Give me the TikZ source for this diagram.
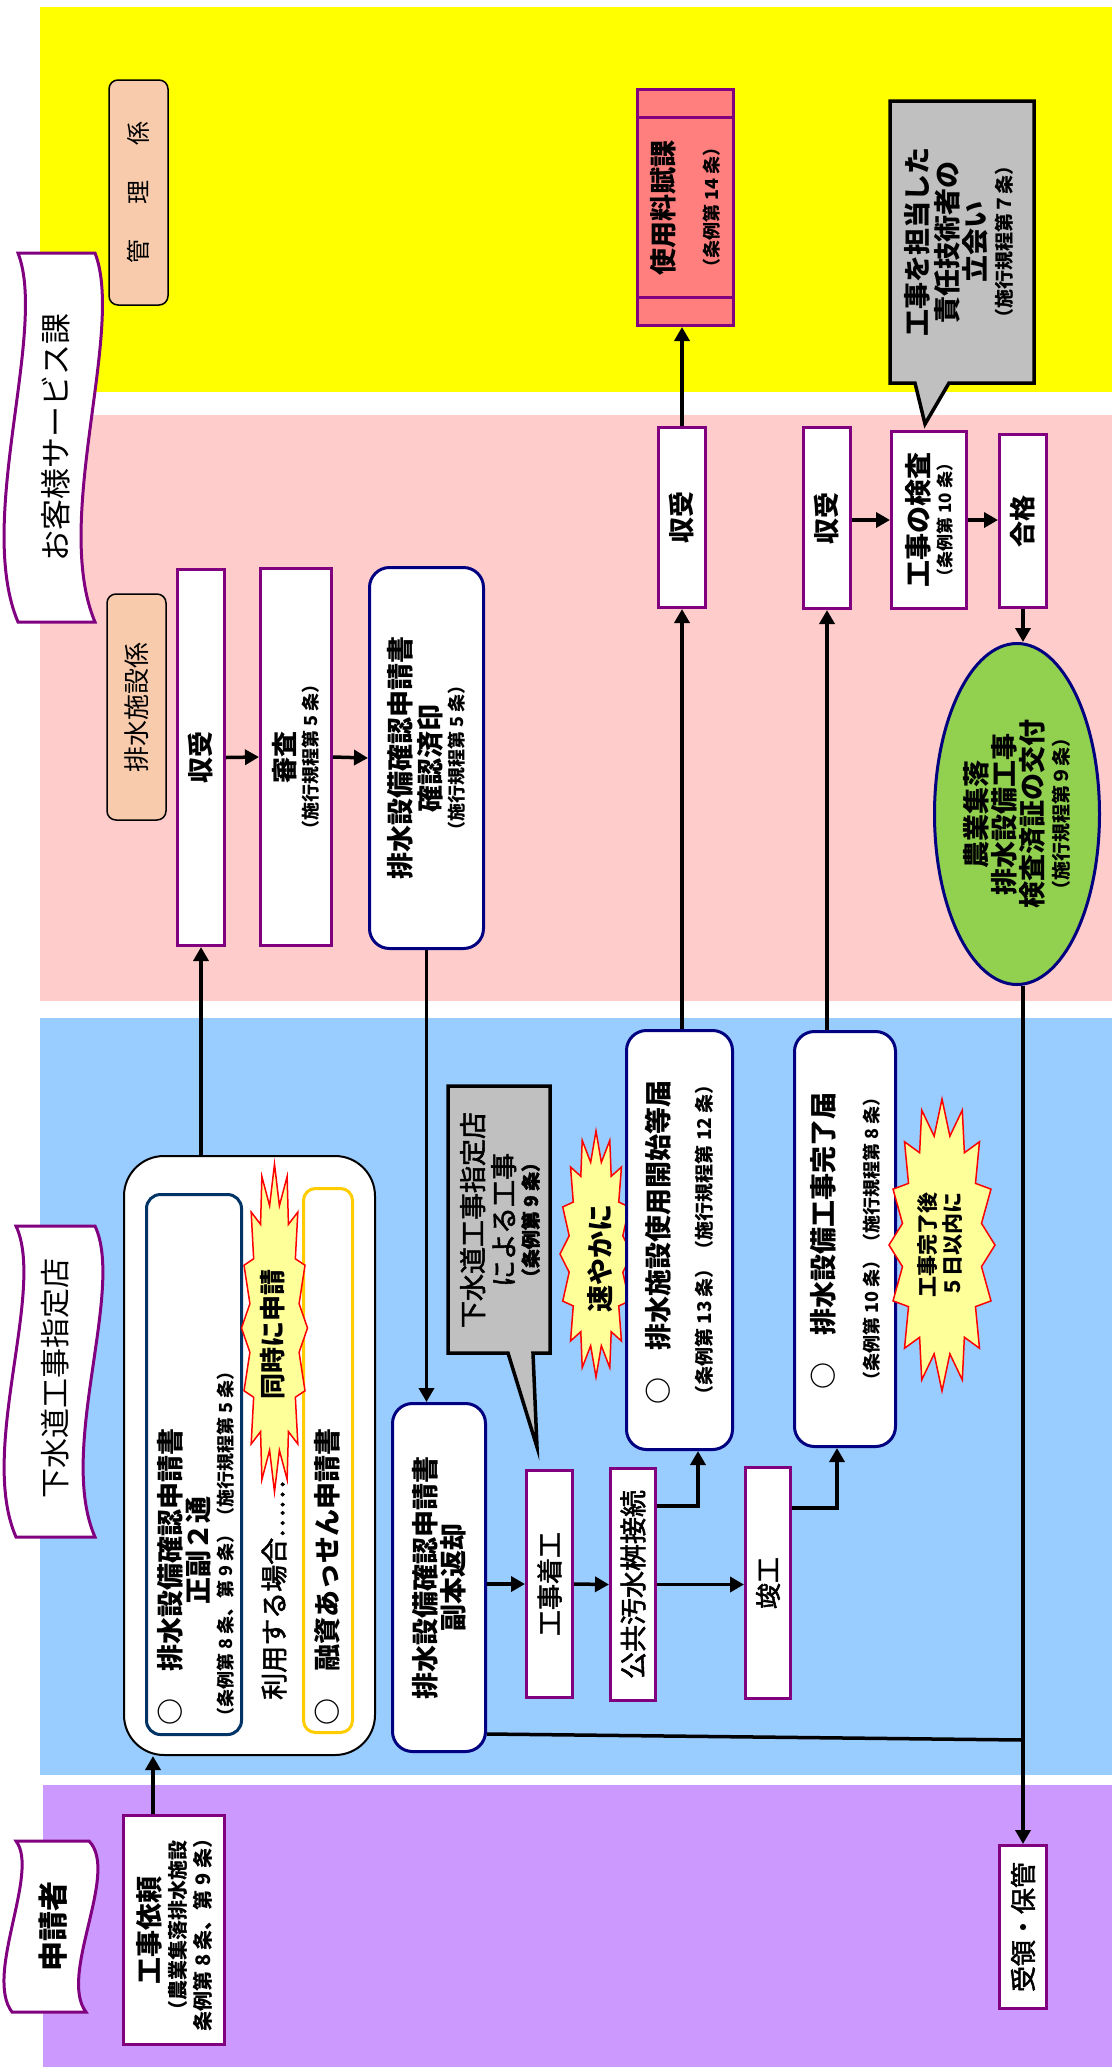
\documentclass[tikz,border=0pt]{standalone}
\usepackage{fontspec}
\setmainfont{Noto Sans CJK JP}
\newfontfamily\md{Noto Sans CJK JP}[FakeBold=2]
\usetikzlibrary{arrows.meta,shapes.geometric}
\definecolor{pur}{HTML}{800080}
\definecolor{nav}{HTML}{000080}
\definecolor{nav2}{HTML}{003366}
\definecolor{gold}{HTML}{FFCC00}
\definecolor{yel}{HTML}{FFFF00}
\definecolor{pinkbg}{HTML}{FFCCCC}
\definecolor{bluebg}{HTML}{99CCFF}
\definecolor{purbg}{HTML}{CC99FF}
\definecolor{peach}{HTML}{F8CBAD}
\definecolor{salmon}{HTML}{FF7F7F}
\definecolor{grayc}{HTML}{C0C0C0}
\definecolor{byel}{HTML}{FFFF99}
\definecolor{egreen}{HTML}{92D050}
\newcommand\fnt[2]{\fontsize{#1}{#2}\selectfont}
\tikzset{
  pbox/.style={draw=pur, line width=3pt, fill=white, rotate=90, inner sep=0pt, align=center, font=\fnt{26}{30}\bfseries},
  nbox/.style={draw=nav, line width=3pt, fill=white, rounded corners=20pt, rotate=90, inner sep=0pt, align=center, font=\fnt{27}{30}\bfseries},
  tagbox/.style={draw=black, line width=1.5pt, fill=peach, rounded corners=9pt, rotate=90, inner sep=0pt, font=\fnt{24}{28}},
  txt/.style={rotate=90, inner sep=0pt, align=center},
  arr/.style={line width=3.5pt, -{Triangle[length=14pt,width=15pt]}},
  ln/.style={line width=3.5pt},
  burst/.style={draw=red, line width=1.5pt, fill=byel},
  banner/.style={draw=pur, line width=3pt, fill=white},
  callout/.style={draw=black, line width=3.5pt, fill=grayc},
}
\newcommand\burstpath[4]{%
  \begin{scope}[shift={(#1,#2)},x=#3pt,y=#4pt]
    \draw[burst] (0:1) \foreach \k in {1,...,15}{ -- ({\k*22.5-11.25}:0.76) -- ({\k*22.5}:1)} -- (348.75:0.76) -- cycle;
  \end{scope}}
\begin{document}
\begin{tikzpicture}[x=1pt,y=-1pt]
\useasboundingbox (0,0) rectangle (1112,2067);
% lanes
\fill[yel] (40,7) rectangle (1112,392);
\fill[pinkbg] (40,415) rectangle (1112,1001);
\fill[bluebg] (40,1018) rectangle (1112,1775);
\fill[purbg] (43,1785) rectangle (1112,2067);
% banners
\draw[banner] (18,253) .. controls (48,330) and (-25,520) .. (18,622) -- (95,622) .. controls (52,520) and (125,330) .. (95,253) -- cycle;
\node[txt, font=\fnt{31}{34}] (b1) at (56,437) {お客様サービス課};
\draw[banner] (16,1226) .. controls (46,1290) and (-22,1450) .. (16,1537) -- (95,1537) .. controls (57,1450) and (125,1290) .. (95,1226) -- cycle;
\node[txt, font=\fnt{30}{34}] (b2) at (55,1378) {下水道工事指定店};
\draw[banner] (16,1841) .. controls (40,1872) and (-16,1975) .. (12,2012) -- (86,2012) .. controls (58,1975) and (120,1872) .. (89,1841) -- cycle;
\node[txt, font=\fnt{30}{34}\bfseries] (b3) at (53,1926) {申請者};
% yellow lane
\node[tagbox, minimum width=225pt, minimum height=59pt] (kanri) at (138.5,192.5) {管\hspace{35pt}理\hspace{35pt}係};
\node[pbox, fill=salmon, minimum width=236pt, minimum height=96pt, font=\fnt{27}{30}\bfseries] (shiyo) at (685.5,207.5) {使用料賦課\\[15pt]{\fnt{18}{20}（条例第 14 条）}};
\draw[pur, line width=3pt] (637,117) -- (734,117) (637,297) -- (734,297);
\draw[callout] (890,101) -- (1034,101) -- (1034,383) -- (949,383) -- (925,424) -- (915,383) -- (890,383) -- cycle;
\node[txt, font=\fnt{27}{30}\bfseries] (c1) at (959,242) {工事を担当した\\責任技術者の\\[-2pt]立会い\\[-4pt]{\fnt{19}{20}（施行規程第７条）}};
% pink lane
\node[tagbox, minimum width=226pt, minimum height=59pt, font=\fnt{26}{30}] (haisui) at (136.5,707) {排水施設係};
\node[pbox, minimum width=376pt, minimum height=47pt] (shujuA) at (201,757.5) {収受};
\node[pbox, minimum width=377pt, minimum height=71pt] (shinsa) at (296,757) {審査\\[-7pt]{\fnt{18}{20}（施行規程第 5 条）}};
\node[nbox, minimum width=381pt, minimum height=114pt] (kakunin) at (426.5,758) {排水設備確認申請書\\確認済印\\[-7pt]{\fnt{18}{20}（施行規程第 5 条）}};
\node[pbox, minimum width=180pt, minimum height=47pt] (shujuB) at (682,517.5) {収受};
\node[pbox, minimum width=181pt, minimum height=47pt] (shujuC) at (827,518) {収受};
\node[pbox, minimum width=177pt, minimum height=75pt, font=\fnt{27}{30}\bfseries] (kensa) at (929,520) {工事の検査\\[-7pt]{\fnt{17}{20}（条例第 10 条）}};
\node[pbox, minimum width=173pt, minimum height=47pt] (gokaku) at (1023,521) {合格};
\node[ellipse, rotate=90, draw=nav, line width=3pt, fill=egreen, minimum width=341pt, minimum height=165pt, inner sep=0pt, align=center, font=\fnt{27}{29}\bfseries] (kofu) at (1017,814) {農業集落\\[-1pt]排水設備工事\\[-1pt]検査済証の交付\\[-3pt]{\fnt{19}{20}（施行規程第９条）}};
% blue lane
\node[draw=black, line width=2pt, fill=white, rounded corners=40pt, minimum width=251pt, minimum height=599pt] (bigbox) at (249.5,1455.5) {};
\node[draw=nav2, line width=3pt, fill=white, rounded corners=14pt, minimum width=95pt, minimum height=540pt] (inner1) at (194,1464.5) {};
\node[draw=gold, line width=3pt, fill=white, rounded corners=12pt, minimum width=49pt, minimum height=544pt] (inner2) at (328,1460.5) {};
\burstpath{274.5}{1328}{33}{164}
\node[txt, font=\fnt{26}{30}\bfseries] (doji) at (273,1334) {同時に申請};
\node[txt, anchor=west, align=left, font=\fnt{27}{30}\bfseries] (t1) at (196,1726) {○　排水設備確認申請書\\[-2pt]\hspace*{121pt}正副２通\\[-6pt]{\fnt{18}{20}（条例第 8 条、第 9 条）（施行規程第 5 条）}};
\node[txt, anchor=west, font=\fnt{27}{30}\md] (riyo) at (274,1700) {利用する場合……};
\node[txt, anchor=west, font=\fnt{27}{30}\bfseries] (t2) at (327,1726) {○　融資あっせん申請書};
\node[nbox, minimum width=348pt, minimum height=93pt, font=\fnt{27}{28}\bfseries] (fukuhon) at (439,1577.5) {排水設備確認申請書\\副本返却};
\draw[callout] (448,1086) -- (550,1086) -- (550,1353) -- (533,1353) -- (537,1447) -- (508,1353) -- (448,1353) -- cycle;
\node[txt, font=\fnt{27}{30}\md] (c2) at (500,1220) {下水道工事指定店\\[1pt]による工事\\[-6pt]{\fnt{19}{20}\bfseries（条例第 9 条）}};
\node[pbox, font=\fnt{26}{30}\md, minimum width=227pt, minimum height=46pt] (chakko) at (549.5,1584) {工事着工};
\node[pbox, font=\fnt{27}{30}\md, minimum width=232pt, minimum height=45pt] (koukyo) at (633,1584.5) {公共汚水桝接続};
\node[pbox, font=\fnt{26}{30}\md, minimum width=231pt, minimum height=45pt] (shunko) at (768,1583) {竣工};
\burstpath{596}{1254}{36}{123}
\node[txt, font=\fnt{27}{30}\bfseries] (sumiyaka) at (600,1258) {速やかに};
\node[nbox, align=left, minimum width=419pt, minimum height=106pt] (kaishi) at (679.5,1240) {○　排水施設使用開始等届\\[13pt]{\fnt{19}{20}（条例第 13 条）（施行規程第 12 条）}};
\node[nbox, align=left, minimum width=415pt, minimum height=101pt] (kanryo) at (845,1239) {○　排水設備工事完了届\\[15pt]{\fnt{18}{20}（条例第 10 条）（施行規程第 8 条）}};
\burstpath{942}{1245}{53}{146}
\node[txt, font=\fnt{21}{25}\bfseries] (kanryogo) at (940,1245) {工事完了後\\５日以内に};
% purple lane
\node[pbox, minimum width=229pt, minimum height=101pt, font=\fnt{27}{26}\bfseries] (irai) at (174,1930) {工事依頼\\{\fnt{20}{20}（農業集落排水施設}\\[-1pt]{\fnt{20}{20}条例第 8 条、第 9 条）}};
\node[pbox, font=\fnt{26}{30}\md, minimum width=163pt, minimum height=47pt] (juryo) at (1023,1927) {受領・保管};
% connectors
\coordinate (xa) at (153,0);
\coordinate (join) at (1023,1740);
\draw[arr] (irai.east -| xa) -- (bigbox.south -| xa);
\draw[arr] (bigbox.north -| shujuA) -- (shujuA.west);
\draw[arr] (shujuA.south) -- (shinsa.north);
\draw[arr] (shinsa.south) -- (kakunin.north);
\draw[arr] (kakunin.west) -- (kakunin.west |- fukuhon.east);
\draw[arr] (fukuhon.south |- chakko) -- (chakko.north);
\draw[arr] (chakko.south) -- (koukyo.north);
\draw[arr] (koukyo.south) -- (koukyo.south -| shunko.north);
\draw[arr] ([yshift=78.5pt]koukyo.south) -| ([xshift=18.5pt]kaishi.west);
\draw[arr] ([yshift=75pt]shunko.south) -| ([xshift=-8pt]kanryo.west);
\draw[arr] (kaishi.east -| shujuB) -- (shujuB.west);
\draw[arr] (kanryo.east -| shujuC) -- (shujuC.west);
\draw[arr] (shujuB.east) -- (shujuB.east |- shiyo.west);
\draw[arr] (shujuC.south |- kensa) -- (kensa.north);
\draw[arr] (kensa.south) -- (kensa.south -| gokaku.north);
\draw[arr] (gokaku.west) -- (gokaku.west |- kofu.east);
\draw[arr] (kofu.west -| juryo) -- (juryo.east);
\draw[ln] ([yshift=-156.5pt]fukuhon.south) -- (join);
\end{tikzpicture}
\end{document}
